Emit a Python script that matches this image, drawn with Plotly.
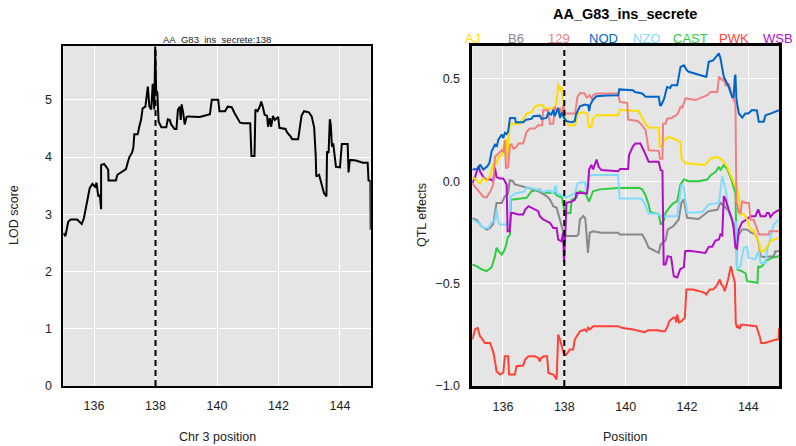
import plotly.graph_objects as go

# ---------------- data ----------------
peak_pos = 138.0
left_title = "AA_G83_ins_secrete:138"
right_title = "AA_G83_ins_secrete"

lod_points = [
    (135.00, 2.67), (135.07, 2.62), (135.16, 2.87), (135.24, 2.91), (135.45, 2.91), (135.53, 2.87),
    (135.60, 2.83), (135.67, 2.93), (135.78, 3.25), (135.86, 3.46), (135.95, 3.53), (136.03, 3.48),
    (136.08, 3.55), (136.14, 3.31), (136.19, 3.34), (136.23, 3.09), (136.23, 3.86), (136.33, 3.88),
    (136.38, 3.84), (136.46, 3.78), (136.47, 3.59), (136.71, 3.59), (136.76, 3.69), (136.93, 3.75),
    (137.04, 3.79), (137.09, 3.89), (137.15, 4.00), (137.24, 4.08), (137.28, 4.17), (137.31, 4.40),
    (137.42, 4.40), (137.48, 4.55), (137.53, 4.65), (137.58, 4.85), (137.67, 4.88), (137.75, 5.23),
    (137.80, 4.88), (137.86, 4.83), (137.91, 5.28), (137.96, 4.83), (137.99, 5.93), (138.02, 5.17),
    (138.06, 5.12), (138.10, 4.62), (138.19, 4.52), (138.35, 4.52), (138.40, 4.66), (138.46, 4.65),
    (138.51, 4.57), (138.62, 4.49), (138.68, 4.49), (138.73, 4.83), (138.79, 4.88), (138.82, 4.65),
    (138.85, 4.92), (138.90, 4.77), (138.95, 4.57), (139.01, 4.70), (139.06, 4.71), (139.44, 4.70),
    (139.77, 4.75), (139.83, 5.00), (140.04, 5.00), (140.08, 4.80), (140.26, 4.80), (140.35, 4.88),
    (140.48, 4.87), (140.57, 4.77), (140.64, 4.71), (140.75, 4.60), (140.86, 4.59), (141.08, 4.59),
    (141.12, 4.02), (141.22, 4.02), (141.25, 4.83), (141.32, 4.80), (141.39, 4.88), (141.44, 4.97),
    (141.49, 4.88), (141.55, 4.74), (141.63, 4.72), (141.66, 4.53), (141.72, 4.68), (141.76, 4.53),
    (141.82, 4.72), (141.88, 4.65), (141.99, 4.70), (142.03, 4.51), (142.23, 4.49), (142.28, 4.43),
    (142.39, 4.36), (142.45, 4.31), (142.64, 4.31), (142.69, 4.48), (142.75, 4.72), (142.83, 4.80),
    (142.99, 4.78), (143.08, 4.71), (143.16, 4.52), (143.21, 4.04), (143.23, 3.66), (143.32, 3.69),
    (143.41, 3.51), (143.48, 3.37), (143.56, 3.31), (143.58, 4.10), (143.63, 4.07), (143.67, 4.66),
    (143.70, 4.57), (143.74, 4.18), (143.78, 4.24), (143.81, 4.07), (143.87, 3.83), (144.00, 3.82),
    (144.06, 4.23), (144.25, 4.23), (144.28, 3.73), (144.32, 3.95), (144.41, 3.95), (144.52, 3.94),
    (144.74, 3.90), (144.90, 3.90), (144.93, 3.59), (144.99, 3.58), (145.00, 2.73),
]

founders = ["AJ", "B6", "129", "NOD", "NZO", "CAST", "PWK", "WSB"]
founder_colors = ["#FFDC00", "#888888", "#F08080", "#0064C9", "#7FDBFF", "#2ECC40", "#FF4136", "#B10DC9"]

eff_AJ = [
    (135.00, 0.021), (135.14, 0.005), (135.25, -0.011), (135.36, 0.015), (135.47, 0.0), (135.58, 0.027),
    (135.68, 0.085), (135.79, 0.085), (135.85, 0.119), (135.96, 0.125), (136.06, 0.20), (136.11, 0.20),
    (136.14, 0.102), (136.18, 0.20), (136.23, 0.281), (136.55, 0.281), (136.66, 0.305), (136.77, 0.33),
    (136.93, 0.338), (137.04, 0.363), (137.15, 0.371), (137.31, 0.371), (137.37, 0.354), (137.58, 0.354),
    (137.69, 0.363), (137.75, 0.387), (137.80, 0.477), (137.86, 0.444), (137.91, 0.461), (137.97, 0.387),
    (138.02, 0.314), (138.13, 0.273), (138.35, 0.273), (138.45, 0.33), (138.62, 0.338), (138.75, 0.33),
    (138.80, 0.265), (138.88, 0.265), (138.94, 0.305), (139.05, 0.322), (139.75, 0.322), (139.81, 0.349),
    (140.43, 0.342), (140.50, 0.32), (140.65, 0.28), (140.75, 0.262), (141.08, 0.261), (141.11, 0.168),
    (141.18, 0.17), (141.25, 0.20), (141.41, 0.216), (141.68, 0.20), (141.79, 0.192), (141.82, 0.111),
    (141.95, 0.087), (142.60, 0.079), (142.77, 0.111), (142.99, 0.119), (143.15, 0.103), (143.31, 0.070),
    (143.42, 0.029), (143.52, -0.011), (143.58, -0.027), (143.63, -0.024), (143.69, -0.073), (143.74, -0.163),
    (143.85, -0.16), (143.96, -0.187), (144.07, -0.236), (144.18, -0.24), (144.23, -0.268), (144.34, -0.293),
    (144.40, -0.342), (144.50, -0.342), (144.56, -0.33), (144.67, -0.309), (144.72, -0.29), (144.83, -0.285),
    (144.94, -0.277), (145.00, -0.277),
]

eff_B6 = [
    (135.00, -0.18), (135.15, -0.19), (135.30, -0.22), (135.47, -0.236), (135.58, -0.228), (135.68, -0.21),
    (135.79, -0.106), (135.96, -0.106), (136.06, -0.074), (136.17, -0.06), (136.22, 0.005), (136.33, 0.0),
    (136.39, -0.016), (136.60, -0.024), (136.88, -0.032), (137.00, -0.04), (137.15, -0.049), (137.42, -0.073),
    (137.53, -0.089), (137.64, -0.122), (137.75, -0.13), (137.88, -0.21), (137.97, -0.25), (138.07, -0.268),
    (138.40, -0.268), (138.46, -0.26), (138.51, -0.187), (138.62, -0.17), (138.68, -0.18), (138.70, -0.21),
    (138.74, -0.30), (138.77, -0.35), (138.80, -0.30), (138.83, -0.252), (138.94, -0.245), (139.20, -0.252),
    (139.75, -0.252), (139.81, -0.26), (140.54, -0.26), (140.65, -0.29), (140.75, -0.325), (141.08, -0.35),
    (141.14, -0.31), (141.30, -0.29), (141.37, -0.236), (141.55, -0.22), (141.73, -0.187), (141.82, -0.106),
    (141.90, -0.089), (142.00, -0.179), (142.38, -0.185), (142.71, -0.146), (142.99, -0.14), (143.09, -0.106),
    (143.20, -0.12), (143.36, -0.146), (143.52, -0.20), (143.58, -0.293), (143.69, -0.26), (143.80, -0.236),
    (143.96, -0.236), (144.07, -0.25), (144.23, -0.26), (144.34, -0.30), (144.40, -0.366), (144.50, -0.37),
    (144.83, -0.366), (144.88, -0.342), (145.00, -0.342),
]

eff_129 = [
    (135.00, -0.011), (135.09, -0.027), (135.20, -0.044), (135.36, -0.076), (135.47, -0.079), (135.58, -0.052),
    (135.68, -0.019), (135.74, 0.119), (135.85, 0.135), (135.96, 0.151), (136.02, 0.145), (136.06, 0.20),
    (136.10, 0.062), (136.17, 0.07), (136.23, 0.176), (136.28, 0.18), (136.34, 0.159), (136.44, 0.167),
    (136.50, 0.184), (136.66, 0.184), (136.72, 0.216), (136.77, 0.241), (136.88, 0.257), (137.04, 0.257),
    (137.15, 0.273), (137.28, 0.273), (137.31, 0.346), (137.48, 0.346), (137.53, 0.281), (137.64, 0.281),
    (137.69, 0.363), (137.75, 0.35), (137.86, 0.355), (137.91, 0.322), (137.97, 0.371), (138.02, 0.33),
    (138.35, 0.33), (138.43, 0.412), (138.51, 0.43), (138.67, 0.428), (138.72, 0.41), (138.77, 0.412),
    (138.82, 0.42), (138.88, 0.405), (138.94, 0.42), (139.05, 0.428), (139.75, 0.428), (139.81, 0.387),
    (140.05, 0.382), (140.08, 0.301), (140.38, 0.294), (140.50, 0.28), (140.65, 0.249), (140.75, 0.151),
    (141.08, 0.148), (141.12, 0.11), (141.20, 0.11), (141.22, 0.281), (141.30, 0.281), (141.35, 0.305),
    (141.50, 0.31), (141.63, 0.32), (141.70, 0.33), (141.79, 0.363), (141.85, 0.36), (141.95, 0.404),
    (142.28, 0.396), (142.66, 0.42), (142.77, 0.436), (142.99, 0.436), (143.04, 0.51), (143.15, 0.493),
    (143.20, 0.50), (143.26, 0.469), (143.36, 0.475), (143.52, 0.396), (143.58, 0.379), (143.61, -0.098),
    (143.69, -0.154), (143.75, -0.154), (143.80, -0.098), (143.91, -0.106), (144.02, -0.106), (144.07, -0.187),
    (144.18, -0.19), (144.30, -0.244), (144.35, -0.26), (144.67, -0.26), (144.69, -0.244), (145.00, -0.244),
]

eff_NOD = [
    (135.00, 0.057), (135.20, 0.060), (135.25, 0.081), (135.36, 0.057), (135.49, 0.073), (135.56, 0.09),
    (135.63, 0.146), (135.74, 0.179), (135.80, 0.172), (135.85, 0.203), (135.96, 0.228), (136.01, 0.21),
    (136.06, 0.236), (136.12, 0.23), (136.17, 0.244), (136.23, 0.309), (136.39, 0.309), (136.42, 0.288),
    (136.66, 0.288), (136.75, 0.30), (136.93, 0.304), (136.99, 0.317), (137.20, 0.32), (137.26, 0.304),
    (137.42, 0.309), (137.48, 0.334), (137.58, 0.325), (137.64, 0.35), (137.69, 0.317), (137.75, 0.335),
    (137.80, 0.358), (137.86, 0.309), (137.92, 0.335), (137.99, 0.309), (138.07, 0.293), (138.24, 0.288),
    (138.34, 0.293), (138.38, 0.325), (138.51, 0.366), (138.67, 0.374), (138.78, 0.37), (138.81, 0.342),
    (138.85, 0.374), (138.94, 0.399), (139.05, 0.415), (139.38, 0.418), (139.76, 0.42), (139.79, 0.448),
    (140.24, 0.444), (140.30, 0.435), (140.54, 0.428), (140.65, 0.412), (141.08, 0.412), (141.12, 0.371),
    (141.16, 0.371), (141.25, 0.40), (141.35, 0.46), (141.45, 0.455), (141.50, 0.468), (141.68, 0.468),
    (141.79, 0.558), (141.90, 0.566), (142.00, 0.54), (142.06, 0.534), (142.38, 0.518), (142.63, 0.509),
    (142.71, 0.583), (142.85, 0.59), (143.04, 0.624), (143.09, 0.60), (143.20, 0.51), (143.36, 0.46),
    (143.47, 0.412), (143.52, 0.41), (143.56, 0.51), (143.58, 0.52), (143.61, 0.40), (143.69, 0.331),
    (143.80, 0.31), (143.90, 0.33), (144.00, 0.33), (144.12, 0.347), (144.28, 0.345), (144.34, 0.29),
    (144.50, 0.29), (144.56, 0.322), (144.72, 0.33), (144.88, 0.338), (145.00, 0.347),
]

eff_NZO = [
    (135.00, -0.187), (135.09, -0.195), (135.20, -0.203), (135.36, -0.228), (135.52, -0.228), (135.63, -0.203),
    (135.74, -0.187), (135.79, -0.138), (135.83, -0.19), (135.90, -0.212), (136.22, -0.212), (136.25, -0.076),
    (136.40, -0.06), (136.55, -0.055), (136.70, -0.05), (136.77, -0.028), (137.04, -0.036), (137.20, -0.044),
    (137.31, -0.052), (137.53, -0.044), (137.64, -0.06), (137.72, -0.02), (137.76, -0.06), (137.95, -0.07),
    (138.05, -0.08), (138.35, -0.06), (138.43, -0.011), (138.55, -0.005), (138.67, -0.005), (138.72, -0.05),
    (138.79, 0.027), (138.95, 0.030), (139.75, 0.030), (139.80, -0.085), (140.43, -0.084), (140.54, -0.09),
    (140.65, -0.12), (140.75, -0.157), (141.08, -0.16), (141.14, -0.171), (141.68, -0.171), (141.75, -0.10),
    (141.82, -0.016), (141.90, -0.03), (142.00, -0.154), (142.50, -0.15), (142.60, -0.13), (142.71, -0.113),
    (143.04, -0.106), (143.10, -0.04), (143.15, 0.025), (143.26, -0.04), (143.36, -0.154), (143.52, -0.195),
    (143.60, -0.20), (143.63, -0.43), (143.74, -0.415), (143.85, -0.325), (143.96, -0.32), (144.01, -0.375),
    (144.23, -0.38), (144.30, -0.35), (144.35, -0.35), (144.40, -0.399), (144.56, -0.399), (144.61, -0.34),
    (144.83, -0.211), (145.00, -0.187),
]

eff_CAST = [
    (135.00, -0.407), (135.14, -0.415), (135.30, -0.43), (135.47, -0.439), (135.63, -0.42), (135.74, -0.366),
    (135.79, -0.325), (135.85, -0.34), (135.96, -0.358), (136.04, -0.34), (136.11, -0.31), (136.15, -0.277),
    (136.23, -0.26), (136.26, -0.089), (136.33, -0.089), (136.77, -0.081), (136.93, -0.049), (137.20, -0.04),
    (137.26, -0.057), (137.70, -0.057), (137.75, -0.07), (137.92, -0.08), (138.02, -0.155), (138.20, -0.155),
    (138.24, -0.09), (138.40, -0.081), (138.45, -0.057), (138.51, -0.049), (138.67, -0.057), (138.72, -0.07),
    (138.80, -0.10), (138.85, -0.081), (138.90, -0.057), (138.94, -0.049), (139.16, -0.04), (139.75, -0.033),
    (140.43, -0.032), (140.54, -0.04), (140.65, -0.07), (140.75, -0.114), (140.80, -0.15), (141.08, -0.16),
    (141.14, -0.212), (141.25, -0.19), (141.30, -0.155), (141.46, -0.122), (141.57, -0.106), (141.68, -0.098),
    (141.79, -0.016), (141.90, 0.008), (142.06, 0.0), (142.38, 0.0), (142.66, 0.008), (142.77, 0.029),
    (142.93, 0.045), (143.04, 0.070), (143.09, 0.055), (143.20, 0.078), (143.31, 0.06), (143.42, 0.02),
    (143.52, -0.028), (143.58, -0.06), (143.60, -0.20), (143.63, -0.43), (143.80, -0.44), (143.91, -0.45),
    (143.96, -0.488), (144.23, -0.496), (144.30, -0.496), (144.32, -0.415), (144.37, -0.42), (144.45, -0.415),
    (144.56, -0.39), (144.67, -0.382), (144.77, -0.374), (145.00, -0.366),
]

eff_PWK = [
    (135.00, -0.773), (135.09, -0.724), (135.17, -0.716), (135.25, -0.757), (135.30, -0.765), (135.41, -0.79),
    (135.58, -0.79), (135.63, -0.81), (135.69, -0.838), (135.74, -0.88), (135.79, -0.928), (135.90, -0.944),
    (136.01, -0.935), (136.06, -0.855), (136.17, -0.855), (136.20, -0.944), (136.39, -0.944), (136.44, -0.903),
    (136.66, -0.90), (136.72, -0.871), (136.83, -0.855), (137.04, -0.855), (137.15, -0.863), (137.20, -0.88),
    (137.25, -0.863), (137.33, -0.855), (137.44, -0.855), (137.48, -0.936), (137.64, -0.944), (137.75, -0.968),
    (137.80, -0.749), (137.86, -0.773), (137.97, -0.838), (138.02, -0.85), (138.07, -0.846), (138.18, -0.822),
    (138.29, -0.822), (138.34, -0.773), (138.45, -0.749), (138.51, -0.733), (138.67, -0.724), (138.72, -0.733),
    (138.78, -0.716), (138.83, -0.724), (138.94, -0.708), (139.50, -0.708), (139.76, -0.708), (139.87, -0.716),
    (140.24, -0.724), (140.62, -0.737), (140.73, -0.728), (141.06, -0.728), (141.17, -0.733), (141.28, -0.733),
    (141.37, -0.708), (141.42, -0.684), (141.55, -0.667), (141.62, -0.665), (141.65, -0.69), (141.68, -0.651),
    (141.74, -0.69), (141.82, -0.684), (141.93, -0.667), (141.98, -0.529), (142.20, -0.529), (142.41, -0.537),
    (142.57, -0.545), (142.63, -0.553), (142.74, -0.529), (142.85, -0.529), (142.96, -0.513), (143.07, -0.48),
    (143.12, -0.504), (143.18, -0.513), (143.23, -0.537), (143.34, -0.48), (143.43, -0.415), (143.48, -0.447),
    (143.56, -0.496), (143.59, -0.692), (143.63, -0.716), (143.67, -0.708), (143.72, -0.72), (143.77, -0.70),
    (144.26, -0.708), (144.37, -0.757), (144.42, -0.79), (144.53, -0.79), (144.70, -0.781), (144.91, -0.773),
    (144.99, -0.773), (145.00, -0.716),
]

eff_WSB = [
    (135.00, -0.011), (135.09, 0.02), (135.20, 0.074), (135.26, 0.045), (135.36, 0.021), (135.47, 0.005),
    (135.58, 0.01), (135.68, 0.0), (135.74, 0.066), (135.79, 0.02), (135.90, 0.013), (136.01, 0.013),
    (136.12, -0.016), (136.15, -0.244), (136.22, -0.244), (136.26, -0.155), (136.33, -0.155), (136.50, -0.163),
    (136.66, -0.163), (136.72, -0.14), (136.83, -0.122), (136.93, -0.13), (137.04, -0.138), (137.15, -0.146),
    (137.20, -0.171), (137.31, -0.187), (137.42, -0.195), (137.53, -0.203), (137.64, -0.228), (137.75, -0.228),
    (137.80, -0.285), (137.91, -0.293), (137.96, -0.25), (137.99, -0.398), (138.03, -0.26), (138.07, -0.106),
    (138.24, -0.10), (138.35, -0.09), (138.40, -0.057), (138.74, -0.06), (138.78, -0.016), (138.81, 0.057),
    (138.88, 0.08), (138.94, 0.057), (139.05, 0.106), (139.12, 0.07), (139.21, 0.054), (139.76, 0.049),
    (139.82, 0.06), (140.08, 0.06), (140.11, 0.127), (140.24, 0.171), (140.32, 0.184), (140.48, 0.184),
    (140.59, 0.15), (140.68, 0.122), (140.75, 0.095), (141.08, 0.095), (141.14, 0.054), (141.20, 0.05),
    (141.24, -0.407), (141.30, -0.407), (141.37, -0.366), (141.48, -0.37), (141.57, -0.464), (141.68, -0.47),
    (141.78, -0.43), (141.90, -0.42), (141.94, -0.342), (142.08, -0.34), (142.60, -0.35), (142.71, -0.32),
    (142.82, -0.32), (142.93, -0.29), (143.04, -0.285), (143.09, -0.26), (143.15, -0.265), (143.20, -0.073),
    (143.26, -0.09), (143.36, -0.14), (143.47, -0.19), (143.52, -0.23), (143.58, -0.325), (143.63, -0.33),
    (143.69, -0.236), (143.80, -0.20), (143.91, -0.19), (144.07, -0.171), (144.23, -0.171), (144.32, -0.138),
    (144.40, -0.171), (144.56, -0.171), (144.61, -0.155), (144.67, -0.155), (144.72, -0.175), (144.83, -0.155),
    (144.94, -0.146), (145.00, -0.14),
]

effects = {"AJ": eff_AJ, "B6": eff_B6, "129": eff_129, "NOD": eff_NOD,
           "NZO": eff_NZO, "CAST": eff_CAST, "PWK": eff_PWK, "WSB": eff_WSB}

x_ticks = [136, 138, 140, 142, 144]
lod_ticks = [0, 1, 2, 3, 4, 5]
eff_ticks = [-1.0, -0.5, 0.0, 0.5]

# ---------------- figure ----------------
W, H = 796, 446
FONT = "Liberation Sans, Arial, Helvetica, sans-serif"
TXT = "#222222"

def px(x):
    return x / W

def py(y):
    return (H - y) / H

fig = go.Figure()

fig.add_trace(go.Scatter(
    x=[p[0] for p in lod_points], y=[p[1] for p in lod_points],
    mode="lines", line=dict(color="black", width=2), xaxis="x", yaxis="y",
    showlegend=False, hoverinfo="skip"))

draw_order = ["PWK", "CAST", "B6", "NZO", "WSB", "AJ", "129", "NOD"]
for name in draw_order:
    c = founder_colors[founders.index(name)]
    pts = effects[name]
    fig.add_trace(go.Scatter(
        x=[p[0] for p in pts], y=[p[1] for p in pts],
        mode="lines", line=dict(color=c, width=2), xaxis="x2", yaxis="y2",
        name=name, showlegend=False, hoverinfo="skip"))

for xr, yr in [("x", "y"), ("x2", "y2")]:
    fig.add_shape(type="line", x0=peak_pos, x1=peak_pos, y0=0, y1=1,
                  xref=xr, yref=yr + " domain",
                  line=dict(color="black", width=2, dash="6px,4px"), layer="above")

ydom = [py(386), py(46)]
common_x = dict(range=[135, 145], tickvals=x_ticks, showgrid=True, gridcolor="white", gridwidth=1,
                zeroline=False, showline=True, mirror=True, linecolor="black", automargin=False,
                ticks="outside", ticklen=7, tickcolor="rgba(0,0,0,0)",
                tickfont=dict(family=FONT, size=12.5, color=TXT))
common_y = dict(showgrid=True, gridcolor="white", gridwidth=1, zeroline=False,
                showline=True, mirror=True, linecolor="black", automargin=False,
                ticks="outside", ticklen=7, tickcolor="rgba(0,0,0,0)",
                tickfont=dict(family=FONT, size=12.5, color=TXT))

fig.update_layout(
    template="none", autosize=False,
    width=W, height=H, margin=dict(l=0, r=0, t=0, b=0, pad=0),
    paper_bgcolor="white", plot_bgcolor="#E5E5E5",
    font=dict(family=FONT, color=TXT),
    xaxis=dict(domain=[px(63.3), px(370.7)], anchor="y", linewidth=1.5, **common_x),
    yaxis=dict(domain=ydom, anchor="x", range=[0, 5.94], tickvals=lod_ticks, linewidth=1.5, **common_y),
    xaxis2=dict(domain=[px(472.3), px(779)], anchor="y2", linewidth=2.5, **common_x),
    yaxis2=dict(domain=ydom, anchor="x2", range=[-1.0, 0.66], tickvals=eff_ticks,
                tickformat=".1f", linewidth=2.5, **common_y),
)

def label(text, x, y, size, color=TXT, angle=0):
    return dict(text=text, x=px(x), y=py(y), xref="paper", yref="paper",
                xanchor="center", yanchor="middle", textangle=angle, showarrow=False,
                font=dict(family=FONT, size=size, color=color))

ann = [
    label(left_title, 217, 39, 9.5),
    label("<b>" + right_title + "</b>", 625, 14, 14.5, "black"),
    label("LOD score", 14, 215, 12.5, angle=-90),
    label("Chr 3 position", 217, 437, 12.5),
    label("QTL effects", 422, 215, 12.5, angle=-90),
    label("Position", 625, 437, 12.5),
]
legend_x0, legend_dx = 472, 43.7
for i, (name, c) in enumerate(zip(founders, founder_colors)):
    ann.append(label(name, legend_x0 + i * legend_dx, 38, 13, c))

fig.update_layout(annotations=ann)
fig.write_html("out.html")
